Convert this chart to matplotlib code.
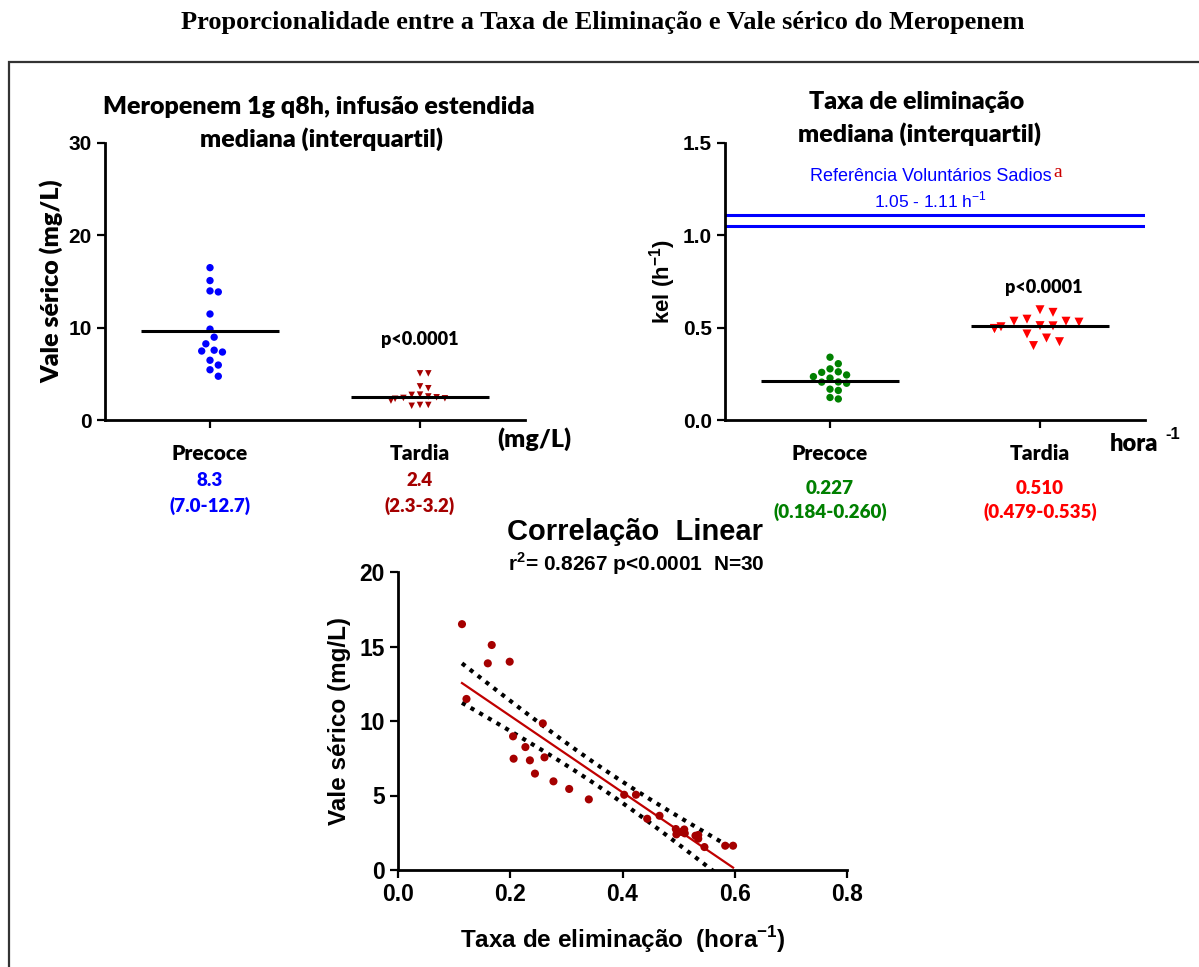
import numpy as np
import matplotlib.pyplot as plt
from matplotlib.patches import Rectangle
from matplotlib.transforms import blended_transform_factory

plt.rcParams['mathtext.fontset'] = 'custom'
plt.rcParams['mathtext.rm'] = 'Liberation Sans'
plt.rcParams['mathtext.bf'] = 'Liberation Sans:bold'

# data
groups = ["Precoce", "Tardia"]
precoce_kel = [0.114, 0.167, 0.160, 0.199, 0.122, 0.258, 0.205, 0.227, 0.206, 0.235,
               0.261, 0.244, 0.277, 0.305, 0.340]
precoce_vale = [16.5, 15.1, 13.87, 13.98, 11.48, 9.84, 8.97, 8.25, 7.47, 7.36,
                7.56, 6.47, 5.95, 5.44, 4.74]
tardia_kel = [0.403, 0.424, 0.444, 0.466, 0.495, 0.496, 0.510, 0.511, 0.535, 0.535,
              0.546, 0.583, 0.597, 0.505, 0.530]
tardia_vale = [5.05, 5.05, 3.44, 3.64, 2.75, 2.39, 2.72, 2.46, 2.35, 2.10,
               1.54, 1.63, 1.63, 2.55, 2.30]
line_vale = [9.6, 2.45]      # horizontal bars drawn by the original
line_kel = [0.213, 0.507]
ref_kel = [1.05, 1.11]       # healthy volunteers range
med_vale = ["8.3", "2.4"]
iqr_vale = ["(7.0-12.7)", "(2.3-3.2)"]
med_kel = ["0.227", "0.510"]
iqr_kel = ["(0.184-0.260)", "(0.479-0.535)"]
r2_text = "r$^{\\mathbf{2}}$= 0.8267 p<0.0001  N=30"

W, H = 1199, 967
fig = plt.figure(figsize=(W / 100, H / 100), dpi=100)


def fx(x):
    return x / W


def fy(y):
    return 1 - y / H


CAL = 'Lato'             # stands in for Calibri
CW = 'heavy'
ARI = 'Liberation Sans'  # Arial


def style_axis(ax, size):
    for s in ['top', 'right']:
        ax.spines[s].set_visible(False)
    for s in ['left', 'bottom']:
        ax.spines[s].set_linewidth(2)
    ax.tick_params(width=1.6, length=6, direction='out', labelsize=size)
    for lab in ax.get_yticklabels():
        lab.set_fontfamily(ARI)
        lab.set_fontweight('bold')


def swarm_x(ax, center, values, diam):
    # put each point in the nearest free horizontal slot (in pixels)
    values = np.asarray(values)
    xs = np.full(len(values), float(center))
    cx = ax.transData.transform((center, 0))[0]
    placed = []
    for i in np.argsort(values)[::-1]:
        py = ax.transData.transform((center, values[i]))[1]
        for k in [0, 0.5, -0.5, 1, -1, 1.5, -1.5, 2, -2, 2.5, -2.5, 3, -3, 3.5, -3.5]:
            px = cx + k * diam
            if all(np.hypot(px - qx, py - qy) >= diam * 0.97 for qx, qy in placed):
                break
        placed.append((px, py))
        xs[i] = ax.transData.inverted().transform((px, py))[0]
    return xs


# frame
fig.add_artist(Rectangle((fx(9), fy(1010)), fx(1215) - fx(9), fy(62) - fy(1010),
                         transform=fig.transFigure, fill=False, lw=1.6,
                         ec='#333333', clip_on=False))
fig.text(fx(603), fy(22), "Proporcionalidade entre a Taxa de Eliminação e Vale sérico do Meropenem",
         family='Liberation Serif', weight='bold', size=19, ha='center', va='center')

# ---------- top left: trough concentration ----------
ax1 = fig.add_axes([fx(105), fy(420), fx(525) - fx(105), fy(143) - fy(420)])
ax1.set_xlim(-0.5, 1.5)
ax1.set_ylim(0, 30)
ax1.set_yticks([0, 10, 20, 30])
ax1.set_xticks([0, 1])
ax1.set_xticklabels(groups, family=CAL, weight=CW, size=19)
style_axis(ax1, 15)
ax1.tick_params(axis='x', pad=11)
ax1.scatter(swarm_x(ax1, 0, precoce_vale, 8.3), precoce_vale, s=28, color='#0000FF',
            edgecolors='none', zorder=3, clip_on=False)
ax1.scatter(swarm_x(ax1, 1, tardia_vale, 8.3), tardia_vale, s=22, marker='v',
            color='#A50000', edgecolors='none', zorder=3, clip_on=False)
for i, v in enumerate(line_vale):
    ax1.hlines(v, i - 0.33, i + 0.33, color='black', lw=2.2, zorder=4)
ax1.text(1, 8.7, "p<0.0001", family=CAL, weight=CW, size=13, ha='center', va='center')
ax1.set_ylabel("Vale sérico (mg/L)", family=CAL, weight=CW, size=18)
ax1.yaxis.set_label_coords((63 - 105) / 420, 0.5)
tr1 = blended_transform_factory(ax1.transData, fig.transFigure)
for i, c in enumerate(['#0000FF', '#A50000']):
    ax1.text(i, fy(481), med_vale[i], transform=tr1, color=c, family=CAL, weight=CW,
             size=13.5, ha='center', va='center')
    ax1.text(i, fy(506), iqr_vale[i], transform=tr1, color=c, family=CAL, weight=CW,
             size=13.5, ha='center', va='center')
fig.text(fx(534), fy(439), "(mg/L)", family=CAL, weight=CW, size=18, ha='center', va='center')
fig.text(fx(319), fy(107), "Meropenem 1g q8h, infusão estendida", family=CAL, weight=CW,
         size=18, ha='center', va='center')
fig.text(fx(321), fy(139), "mediana (interquartil)", family=CAL, weight=CW,
         size=18, ha='center', va='center')

# ---------- top right: elimination rate ----------
ax2 = fig.add_axes([fx(725), fy(420), fx(1145) - fx(725), fy(143) - fy(420)])
ax2.set_xlim(-0.5, 1.5)
ax2.set_ylim(0, 1.5)
ax2.set_yticks([0, 0.5, 1.0, 1.5])
ax2.set_yticklabels(["0.0", "0.5", "1.0", "1.5"])
ax2.set_xticks([0, 1])
ax2.set_xticklabels(groups, family=CAL, weight=CW, size=19)
style_axis(ax2, 15)
ax2.tick_params(axis='x', pad=11)
for r in ref_kel:
    ax2.axhline(r, color='#0000FF', lw=2.2)
ax2.scatter(swarm_x(ax2, 0, precoce_kel, 8.3), precoce_kel, s=28, color='#008000',
            edgecolors='none', zorder=3)
ax2.scatter(swarm_x(ax2, 1, tardia_kel, 13), tardia_kel, s=42, marker='v',
            color='#FF0000', edgecolors='none', zorder=3)
for i, v in enumerate(line_kel):
    ax2.hlines(v, i - 0.33, i + 0.33, color='black', lw=2.2, zorder=4)
ax2.text(1.02, 0.715, "p<0.0001", family=CAL, weight=CW, size=13, ha='center', va='center')
ref_txt = ax2.text(0.48, 1.316, "Referência Voluntários Sadios", family=ARI, size=13,
                   color='#0000FF', ha='center', va='center')
ax2.annotate("a", xy=(1, 1), xycoords=ref_txt, xytext=(1, -3), textcoords='offset points',
             family='Liberation Serif', size=14, color='#CC0000', ha='left', va='center')
ax2.text(0.48, 1.19, "1.05 - 1.11 h$^{\\mathrm{-1}}$", family=ARI, size=12.5,
         color='#0000FF', ha='center', va='center')
ax2.set_ylabel("kel (h$^{\\mathbf{-1}}$)", family=ARI, weight='bold', size=16)
ax2.yaxis.set_label_coords((678 - 725) / 420, 0.5)
tr2 = blended_transform_factory(ax2.transData, fig.transFigure)
for i, c in enumerate(['#008000', '#FF0000']):
    ax2.text(i, fy(488), med_kel[i], transform=tr2, color=c, family=CAL, weight=CW,
             size=13.5, ha='center', va='center')
    ax2.text(i, fy(512), iqr_kel[i], transform=tr2, color=c, family=CAL, weight=CW,
             size=13.5, ha='center', va='center')
fig.text(fx(1134), fy(444), "hora", family=CAL, weight=CW, size=17,
         ha='center', va='center')
fig.text(fx(1173), fy(435), "-1", family=ARI, weight='bold', size=12, ha='center', va='center')
fig.text(fx(917), fy(102), "Taxa de eliminação", family=CAL, weight=CW,
         size=18, ha='center', va='center')
fig.text(fx(920), fy(134), "mediana (interquartil)", family=CAL, weight=CW,
         size=18, ha='center', va='center')

# ---------- bottom: linear correlation ----------
ax3 = fig.add_axes([fx(398), fy(870), fx(847) - fx(398), fy(572) - fy(870)])
kel = np.array(precoce_kel + tardia_kel)
vale = np.array(precoce_vale + tardia_vale)
ax3.set_xlim(0, 0.8)
ax3.set_ylim(0, 20)
ax3.set_xticks([0, 0.2, 0.4, 0.6, 0.8])
ax3.set_xticklabels(["0.0", "0.2", "0.4", "0.6", "0.8"])
ax3.set_yticks([0, 5, 10, 15, 20])
style_axis(ax3, 16.5)
for lab in ax3.get_xticklabels():
    lab.set_fontfamily(ARI)
    lab.set_fontweight('bold')

slope, icpt = np.polyfit(kel, vale, 1)
n = len(kel)
resid = vale - (slope * kel + icpt)
s_err = np.sqrt(np.sum(resid ** 2) / (n - 2))
sxx = np.sum((kel - kel.mean()) ** 2)
xg = np.linspace(kel.min(), kel.max(), 200)
yg = slope * xg + icpt
half = 2.048 * s_err * np.sqrt(1 / n + (xg - kel.mean()) ** 2 / sxx)
ax3.plot(xg, yg, color='#C00000', lw=1.6, zorder=2)
for band in (yg + half, yg - half):
    ax3.plot(xg, band, color='black', lw=3.0, linestyle=(0, (1, 1.4)),
             dash_capstyle='butt', zorder=2)
ax3.scatter(kel, vale, s=34, color='#A50000', edgecolors='none', zorder=3)

ax3.set_ylabel("Vale sérico (mg/L)", family=ARI, weight='bold', size=17.5)
ax3.yaxis.set_label_coords((351 - 398) / 449, 0.5)
ax3.set_xlabel("Taxa de eliminação  (hora$^{\\mathbf{-1}}$)", family=ARI, weight='bold', size=17.5)
ax3.xaxis.set_label_coords(0.5, -(924 - 870) / 298)
fig.text(fx(635), fy(532), "Correlação  Linear", family=ARI, weight='bold', size=21,
         ha='center', va='center')
fig.text(fx(636), fy(564), r2_text, family=ARI, weight='bold', size=15,
         ha='center', va='center')

fig.savefig("out.png", dpi=100)
